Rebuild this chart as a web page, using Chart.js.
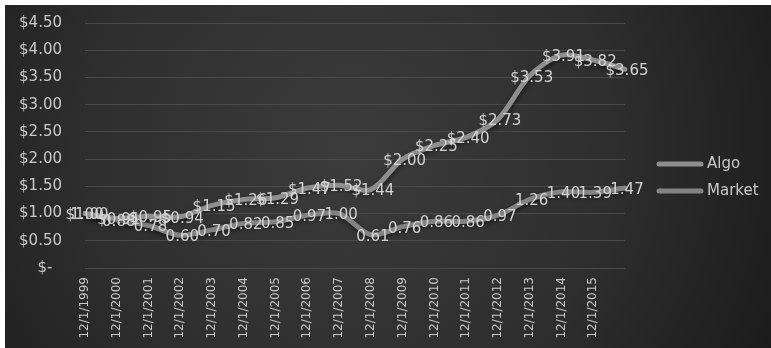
<!DOCTYPE html>
<html>
<head>
<meta charset="utf-8">
<script src="https://cdn.jsdelivr.net/npm/chart.js@4"></script>
<style>
  html, body { margin: 0; padding: 0; background: #fff; }
  #wrap { position: absolute; left: 5px; top: 5px; width: 766px; height: 343px; }
</style>
</head>
<body>
<div id="wrap"><canvas id="chart"></canvas></div>
<script>
const dates = ['12/1/1999', '12/1/2000', '12/1/2001', '12/1/2002', '12/1/2003', '12/1/2004',
  '12/1/2005', '12/1/2006', '12/1/2007', '12/1/2008', '12/1/2009', '12/1/2010',
  '12/1/2011', '12/1/2012', '12/1/2013', '12/1/2014', '12/1/2015', '12/1/2016'];
const algo   = [1.00, 0.91, 0.95, 0.94, 1.15, 1.26, 1.29, 1.47, 1.52, 1.44, 2.00, 2.25, 2.40, 2.73, 3.53, 3.91, 3.82, 3.65];
const market = [1.00, 0.88, 0.78, 0.60, 0.70, 0.82, 0.85, 0.97, 1.00, 0.61, 0.76, 0.86, 0.86, 0.97, 1.26, 1.40, 1.39, 1.47];
const yTicks = [0, 0.5, 1, 1.5, 2, 2.5, 3, 3.5, 4, 4.5];

const FONT = 'DejaVu Sans';
const TXT  = '#c9c9c9';
const ALGO_C = '#8e8e8e';
const MKT_C  = '#838383';

// dark radial background
const bgPlugin = {
  id: 'bg',
  beforeDraw(chart) {
    const { ctx, width, height } = chart;
    const g = ctx.createRadialGradient(width * 0.45, height * 0.42, 10, width * 0.45, height * 0.42, width * 0.62);
    g.addColorStop(0, '#3b3b3b');
    g.addColorStop(0.55, '#2e2e2e');
    g.addColorStop(1, '#1b1b1b');
    ctx.save();
    ctx.fillStyle = g;
    ctx.fillRect(0, 0, width, height);
    ctx.restore();
  }
};

// soft shadow under the lines
const shadowPlugin = {
  id: 'shadow',
  beforeDatasetsDraw(chart) {
    const ctx = chart.ctx;
    ctx.save();
    ctx.shadowColor = 'rgba(0,0,0,0.55)';
    ctx.shadowBlur = 5;
    ctx.shadowOffsetY = 2;
  },
  afterDatasetsDraw(chart) { chart.ctx.restore(); }
};

// value labels centred on the points
const labelPlugin = {
  id: 'vals',
  afterDatasetsDraw(chart) {
    const ctx = chart.ctx;
    ctx.save();
    ctx.font = '15px "' + FONT + '"';
    ctx.fillStyle = '#d2d2d2';
    ctx.textAlign = 'center';
    ctx.textBaseline = 'middle';
    chart.data.datasets.forEach((ds, i) => {
      chart.getDatasetMeta(i).data.forEach((pt, j) => {
        const s = (i === 0 ? '$' : '') + ds.data[j].toFixed(2);
        ctx.fillText(s, pt.x + 2, pt.y + 2);
      });
    });
    ctx.restore();
  }
};

// legend drawn by hand in the reserved right margin
const legendPlugin = {
  id: 'legendLines',
  afterDraw(chart) {
    const ctx = chart.ctx;
    const x0 = chart.chartArea.right + 32;
    ctx.save();
    ctx.font = '15px "' + FONT + '"';
    ctx.textBaseline = 'middle';
    ctx.lineCap = 'round';
    chart.data.datasets.forEach((ds, i) => {
      const y = 159 + i * 27;
      ctx.strokeStyle = ds.borderColor;
      ctx.lineWidth = 5;
      ctx.beginPath();
      ctx.moveTo(x0 + 2, y);
      ctx.lineTo(x0 + 44, y);
      ctx.stroke();
      ctx.fillStyle = TXT;
      ctx.fillText(ds.label, x0 + 50, y);
    });
    ctx.restore();
  }
};

new Chart(document.getElementById('chart'), {
  type: 'line',
  data: {
    labels: dates,
    datasets: [
      { label: 'Algo', data: algo, borderColor: ALGO_C, borderWidth: 5, pointRadius: 0, tension: 0.3, borderCapStyle: 'round', borderJoinStyle: 'round' },
      { label: 'Market', data: market, borderColor: MKT_C, borderWidth: 5, pointRadius: 0, tension: 0.3, borderCapStyle: 'round', borderJoinStyle: 'round' },
    ]
  },
  options: {
    responsive: true,
    maintainAspectRatio: false,
    animation: false,
    layout: { padding: { left: 14, top: 18, right: 146, bottom: 0 } },
    plugins: { tooltip: { enabled: false }, legend: { display: false } },
    scales: {
      x: {
        grid: { display: false, drawTicks: false },
        border: { display: false },
        afterFit: axis => { axis.height = 80; axis.paddingLeft = 0; axis.paddingRight = 0; },
        ticks: {
          color: TXT, font: { family: FONT, size: 12 }, padding: 9,
          maxRotation: 90, minRotation: 90, autoSkip: false,
          callback: (v, i) => i < dates.length - 1 ? dates[i] : ''
        }
      },
      y: {
        min: 0, max: 4.5,
        afterBuildTicks: axis => { axis.ticks = yTicks.map(v => ({ value: v })); },
        afterFit: axis => { axis.width = 66; axis.paddingTop = 0; axis.paddingBottom = 0; },
        grid: { color: '#4a4a4a', lineWidth: 1, drawTicks: false },
        border: { display: false },
        ticks: {
          color: TXT, font: { family: FONT, size: 15 }, padding: 23,
          callback: v => v === 0 ? '$-  ' : '$' + v.toFixed(2)
        }
      }
    }
  },
  plugins: [bgPlugin, shadowPlugin, labelPlugin, legendPlugin]
});
</script>
</body>
</html>
